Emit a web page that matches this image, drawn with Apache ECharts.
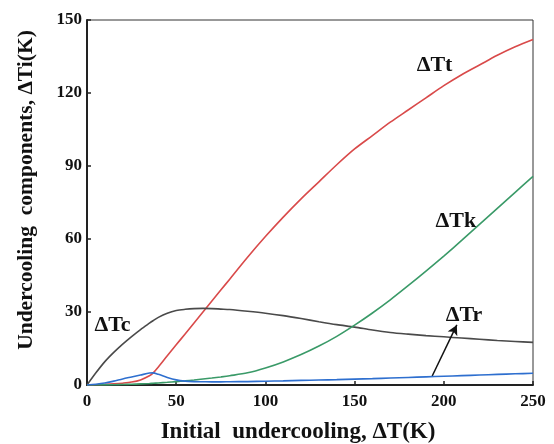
<!DOCTYPE html>
<html><head><meta charset="utf-8">
<script src="https://cdn.jsdelivr.net/npm/echarts@6/dist/echarts.min.js"></script>
<style>html,body{margin:0;padding:0;background:#fff}#c{width:554px;height:444px}</style>
</head><body><div id="c"></div>
<script>
var xs = [0,5,10,15,20,25,30,35,37,40,45,50,55,60,65,70,75,80,90,100,110,120,130,140,150,160,170,180,190,200,210,220,230,240,250];
var dTt = [0,0.1,0.25,0.45,0.75,1.2,2.1,3.8,4.9,7.4,12,16.5,21,25.5,30,34.5,39,43.5,52.5,61,69,76.5,83.5,90.5,97,102.5,108,113,118,123,127.5,131.5,135.5,139,142];
var dTc = [0,5,9.6,13.4,16.8,19.9,22.8,25.4,26.4,27.8,29.5,30.6,31.1,31.4,31.5,31.4,31.2,31,30.3,29.5,28.5,27.3,26,24.8,23.8,22.6,21.6,20.9,20.3,19.8,19.3,18.8,18.3,17.9,17.5];
var dTk = [0,0.02,0.05,0.1,0.2,0.3,0.45,0.6,0.7,0.85,1.1,1.4,1.7,2.05,2.45,2.85,3.3,3.8,5,7,9.5,12.5,16,20,24.6,29.6,35,40.8,46.8,53,59.4,66,72.6,79.2,85.7];
var dTr = [0,0.3,0.8,1.6,2.5,3.3,4.1,4.9,5,4.4,3.1,2.1,1.6,1.4,1.35,1.3,1.3,1.35,1.4,1.55,1.7,1.9,2.05,2.2,2.4,2.6,2.85,3.1,3.35,3.6,3.85,4.1,4.35,4.6,4.8];
var xTicks = [0,50,100,150,200,250];
var yTicks = [0,30,60,90,120,150];
var seriesNames = ['ΔTt','ΔTc','ΔTk','ΔTr'];
var labelAt = {'ΔTt':[194.8,131.5],'ΔTc':[14.3,24.5],'ΔTk':[206.8,67.1],'ΔTr':[211.3,28.6]};
var arrowFrom = [193.5,3.7], arrowTo = [207.3,24.7];
var xTitle = 'Initial  undercooling, ΔT(K)';
var yTitle = 'Undercooling  components, ΔTi(K)';

function pairs(v){ return xs.map(function(x,i){ return [x, v[i]]; }); }
var FONT = '"Liberation Serif","Times New Roman",serif';
var chart = echarts.init(document.getElementById('c'), null, {renderer:'canvas'});
var colors = {'ΔTt':'#d94a4a','ΔTc':'#4a4a4a','ΔTk':'#3a9a68','ΔTr':'#2e6fcf'};
var datas = {'ΔTt':dTt,'ΔTc':dTc,'ΔTk':dTk,'ΔTr':dTr};
var series = seriesNames.map(function(n){
  var s = {name:n, type:'line', data:pairs(datas[n]), smooth:0.3, showSymbol:false, symbol:'none',
    lineStyle:{color:colors[n], width:1.6}, z: n==='ΔTr'?5:3};
  if(n==='ΔTr'){
    s.markLine = {silent:true, symbol:['none','arrow'], symbolSize:[8,10], label:{show:false},
      lineStyle:{color:'#111', width:1.5, type:'solid'},
      data:[[{coord:arrowFrom},{coord:arrowTo}]]};
  }
  return s;
});
chart.setOption({
  animation:false,
  grid:{left:87, right:21, top:20, bottom:59, show:true, borderColor:'#333', borderWidth:1},
  xAxis:{type:'value', min:0, max:250, interval:50,
    axisLine:{show:true, lineStyle:{color:'#222', width:2}},
    axisTick:{show:true, inside:true, length:4, lineStyle:{color:'#222', width:1.5}},
    axisLabel:{color:'#111', fontFamily:FONT, fontWeight:'bold', fontSize:17, margin:8,
      formatter:function(v){ return xTicks.indexOf(v)>=0 ? String(v) : ''; }},
    splitLine:{show:false}},
  yAxis:{type:'value', min:0, max:150, interval:30,
    axisLine:{show:true, lineStyle:{color:'#222', width:2}},
    axisTick:{show:true, inside:true, length:4, lineStyle:{color:'#222', width:1.5}},
    axisLabel:{color:'#111', fontFamily:FONT, fontWeight:'bold', fontSize:17, margin:5,
      formatter:function(v){ return yTicks.indexOf(v)>=0 ? String(v) : ''; }},
    splitLine:{show:false}},
  series:series
});
var g = [];
seriesNames.forEach(function(n){
  var p = chart.convertToPixel({gridIndex:0}, labelAt[n]);
  g.push({type:'text', x:p[0], y:p[1], style:{text:n, fill:'#111', font:'bold 22px '+FONT, textAlign:'center', textVerticalAlign:'middle'}});
});
g.push({type:'text', x:298, y:432, style:{text:xTitle, fill:'#111', font:'bold 23px '+FONT, textAlign:'center', textVerticalAlign:'middle'}});
g.push({type:'text', x:26, y:190, rotation:Math.PI/2, style:{text:yTitle, fill:'#111', font:'bold 21.5px '+FONT, textAlign:'center', textVerticalAlign:'middle'}});
chart.setOption({graphic:g});
</script></body></html>
